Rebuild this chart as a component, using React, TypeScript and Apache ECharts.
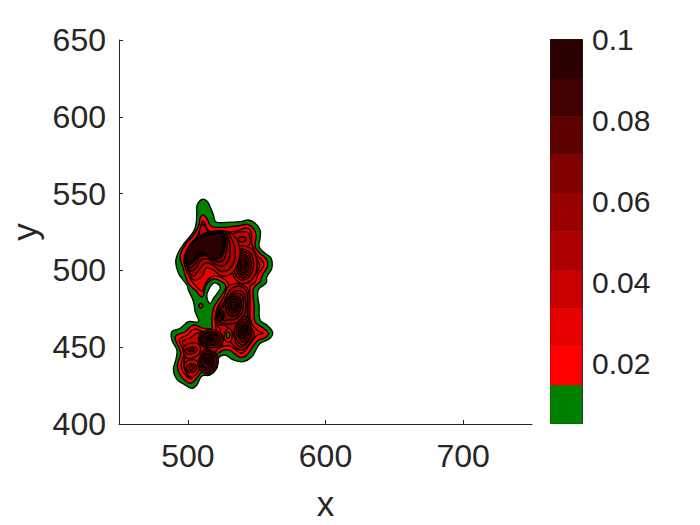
import React, { useEffect, useRef } from "react";
import * as echarts from "echarts";

const xTicks = [500, 600, 700];
const colorbarTicks = [0.02, 0.04, 0.06, 0.08, 0.1];
const bandEdges = [0.0052, 0.0147, 0.0242, 0.0336, 0.0431, 0.0526, 0.0621, 0.0716, 0.081, 0.0905, 0.1];
const bandColors = ["#008000", "#ff0000", "#e60000", "#c80000", "#ab0000", "#990000", "#800000", "#5f0000", "#400000", "#2a0000"];

type P = number[];
const outerRing: P[] = [[510.2,546.3],[513.8,545.2],[516.2,541.5],[518.6,536.1],[520.3,531.7],[528.3,531.3],[538,531.7],[544,532.8],[548.9,530.7],[552.5,526.3],[552.5,520.9],[551.8,515.4],[556.2,511.1],[560.5,507.9],[561,501.4],[557.4,495.9],[556.9,491.8],[551.1,487.2],[551.8,476.4],[552.5,467.7],[557.4,464.4],[561.5,460.1],[559.8,455.8],[552.5,452.5],[550.1,449.3],[546.5,443.8],[540.4,440.6],[533.1,441.7],[527.1,444.9],[522.2,442.8],[521.1,436.3],[516.2,431.9],[510.2,431.2],[506.5,425.4],[502.9,423.2],[498,425.4],[492,429.1],[489.5,435.2],[491.5,442.8],[492,448.2],[488.4,454.7],[488.4,460.1],[494.4,462.3],[500.4,466.6],[507.7,466.6],[505.3,473.1],[504.1,479.6],[500.4,487.2],[499.3,490.5],[493.2,498.1],[491.3,506.8],[495.6,515.4],[504.1,525.2],[506,530.7],[506.5,537.2],[506.8,542.6]];
const hole: P[] = [[515,487.2],[518.6,491.6],[522.2,490.9],[523.5,488.3],[518.6,481.8],[516.2,478.6],[513.8,482.9]];
const redRing: P[] = [[510.9,536.1],[513.8,533.9],[516.2,529.5],[519.8,528],[535.6,528.9],[543.3,530],[547.7,527.4],[549.6,523],[548.9,515.4],[552.5,511.1],[557.4,506.8],[557.8,502.4],[554.2,497],[552.5,492.6],[547.7,488.3],[548.2,476.4],[548.9,466.6],[554.9,462.3],[558.6,459],[556.2,456.2],[551.3,454.7],[547.2,450.3],[542.9,444.9],[538,443.4],[529.5,448.2],[522.2,446],[518.6,438.4],[511.3,435.2],[506.5,429.8],[501.7,426.5],[494.4,431.9],[492.4,438.4],[494.9,446],[490.8,456.8],[498,460.1],[504.1,464.4],[511.3,462.3],[517.4,462.3],[517.4,465.6],[518.6,475.3],[524.7,484],[527.6,489.4],[524.7,492.6],[518.6,494.4],[513.3,490.5],[510.4,482.7],[505.3,487.2],[500.2,491.8],[496.6,501.6],[494.4,508.9],[498,516.5],[504.1,523],[507,527.4],[508.4,530.7],[508.9,533.9]];
const neckSpot: P[] = [[507.9,477],[509.4,478.5],[510.9,477],[509.4,475.5]];
const level2Ring: P[] = [[511.1,532.2],[513.3,528.9],[515.5,525.6],[523.5,525],[535.1,525.6],[543.1,527.6],[546,525],[546.7,516.5],[550.4,510],[554.7,505.5],[554.7,502.2],[551.1,497.7],[548.9,492.4],[545.3,489.8],[545.3,480.7],[546,466.4],[551.1,460.5],[554.7,459.2],[549.6,457.3],[545.3,452.1],[540.9,446.9],[538,446.2],[530,450.8],[522,448.8],[517.7,441],[510.4,437.8],[505.3,431.9],[501.7,429.3],[496.6,433.9],[495.1,438.4],[497.3,446.9],[493.7,454.7],[499.5,457.9],[504.6,461.8],[511.8,459.9],[519.8,459.9],[519.8,469],[521.3,475.5],[527.1,484],[530,489.2],[526.4,494.4],[518.4,496.3],[513.5,492.5],[510.4,486.5],[505.3,490.5],[501.7,494.4],[498,502.9],[497.3,508.7],[500.9,515.9],[506.8,522.4],[508.9,527.6]];
const spikeRing: P[] = [[511.1,530.2],[513.3,526.9],[515.5,523.7],[508.9,522.4],[508.9,526.9]];
const upperRightRing: P[] = [[532.2,523.7],[542.4,525],[545.3,521.1],[543.8,515.9],[535.1,515.2],[529.3,519.8]];
const upperRightCore: P[] = [[536.6,521.1],[540.2,521.7],[542.4,520.4],[540.2,518.5],[537.3,519.1]];
const rightFan: P[] = [[546.7,512],[551.8,504.8],[551.8,501.6],[548.2,496.3],[544.5,491.8],[542.4,491.8],[543.1,505.5]];

const plateauRings: [number, P[]][] = [
  [3, [[497.3,506.8],[501.7,515.2],[507.5,521.7],[515.5,525],[527.8,525.6],[534.4,521.7],[538,513.3],[536.6,505.5],[532.2,498.3],[524.9,496.3],[518.4,500.3],[513.3,501.6],[510.4,496.3],[504.6,493.7],[499.5,499]]],
  [4, [[498,507.4],[502.4,515.2],[508.2,521.7],[516.2,524.3],[527.8,525],[532.2,519.8],[534.4,513.3],[533.6,505.5],[529.3,500.3],[523.5,499.6],[518.4,503.5],[512.6,504.8],[508.2,500.3],[503.9,496.3],[500.2,500.3]]],
  [5, [[498.8,508.1],[503.1,515.2],[508.9,521.1],[516.2,523.7],[527.1,524.3],[530,519.1],[530.7,512],[529.3,506.1],[524.9,502.9],[519.8,504.2],[514.8,507.4],[509.7,506.8],[506,501.6],[502.4,499.6],[499.5,502.2]]],
  [6, [[498.8,508.7],[503.1,514.6],[508.9,520.4],[516.2,523],[526.4,523.7],[528.6,518.5],[527.8,512],[526.4,507.4],[522.7,505.5],[518.4,506.8],[514,509.4],[508.9,508.7],[505.3,504.2],[501.7,501.6],[499.5,504.2]]],
  [7, [[498.8,509.4],[503.1,515.2],[508.2,520.4],[516.2,523.4],[525.7,523.7],[527.5,518.5],[525.7,511.3],[523.5,508.1],[519.1,507.4],[514,510],[508.2,509.4],[503.9,505.5],[500.9,503.5],[498.8,505.5]]],
  [8, [[499.1,510],[503.1,515.9],[507.9,520.8],[516.2,523.2],[525.3,523.7],[526.8,518.5],[524.6,510.7],[517.7,507.1],[513.3,510.7],[507.9,510.3],[503.9,506.1],[500.6,504.8]]],
  [9, [[499.3,505.7],[499.3,513.3],[507.7,520.9],[516.2,523],[524.7,523.5],[525.7,518.7],[523.5,510],[517.4,506.8],[512.6,511.1],[507.7,511.1],[503.8,506.8],[500.4,505.7]]],
];
const rightHillRings: [number, P[]][] = [
  [3, [[535.1,515.2],[545.3,514.6],[549.6,508.1],[549.6,499],[543.8,492.4],[536.6,492.4],[532.2,499],[532.2,508.1]]],
  [4, [[535.8,513.3],[543.8,512.6],[547.5,506.8],[546.7,499],[542.4,494.4],[537.3,494.4],[533.6,499.6],[533.6,508.1]]],
  [5, [[536.6,512],[543.1,511.3],[546,506.1],[545.3,499.6],[541.6,495.7],[538,495.7],[535.1,500.3],[535.1,507.4]]],
  [6, [[537.3,510.7],[542.4,510],[544.5,505.5],[543.8,500.3],[540.9,497],[538.7,497],[536.6,500.9],[536.6,506.8]]],
  [7, [[538,509.4],[541.6,508.7],[543.1,504.8],[542.4,500.9],[540.2,498.3],[538.7,499],[538,501.6],[537.3,506.1]]],
  [8, [[538.7,507.4],[540.9,507.4],[541.6,504.2],[540.9,501.6],[539.5,500.9],[538.7,503.5]]],
];
const mainRings: [number, P[]][] = [
  [3, [[529.3,489.8],[538,491.1],[543.8,487.2],[544.5,474.2],[545.3,464.4],[548.2,458.6],[545.3,453.4],[540.2,448.2],[535.1,449.5],[530.7,453.4],[524.9,456],[523.5,461.2],[520.6,466.4],[522,475.5],[526.4,483.3]]],
  [4, [[523.5,472.9],[527.8,482.7],[532.2,488.5],[539.5,489.2],[543.1,484.6],[543.1,472.9],[544.5,465.1],[546.7,459.2],[543.8,454],[539.5,450.1],[535.1,452.1],[533.6,457.9],[527.8,463.8],[522,465.1]]],
  [5, [[522,472.9],[527.8,480.7],[532.9,485.9],[538.7,486.6],[541.6,482.7],[541.6,472.9],[536.6,466.4],[529.3,465.1],[523.5,466.4]]],
  [6, [[522.7,472.3],[527.1,478.1],[532.2,484],[538,484.6],[540.2,481.4],[539.5,472.9],[535.1,468.4],[529.3,467.7],[524.9,467.7]]],
  [7, [[527.8,478.8],[531.5,482.7],[536.6,482.7],[538.7,479.4],[538,473.6],[534.4,470.3],[530,471],[527.8,474.2]]],
  [8, [[529.3,478.1],[532.2,481.4],[535.8,481.4],[537.3,478.8],[536.6,474.2],[533.6,472.3],[530.7,472.9],[529.3,475.5]]],
  [9, [[531.5,478.8],[534.4,479.4],[535.8,476.8],[533.6,474.2],[531.5,475.5]]],
  [7, [[522,470.3],[524.2,473.6],[526.4,472.3],[525.7,468.4],[522.7,467.7]]],
  [8, [[522.7,470.3],[524.2,472.3],[525.7,471],[524.9,469]]],
];
const southHillRings: [number, P[]][] = [
  [5, [[536.6,466.4],[541.6,470.3],[544.5,467.7],[546,459.2],[543.8,454.7],[540.2,451.4],[536.6,453.4],[533.6,459.9]]],
  [6, [[537.3,465.1],[541.6,468.4],[543.8,465.8],[544.5,459.2],[542.4,455.3],[540.2,453.4],[538,454.7],[535.1,459.9]]],
  [7, [[538,463.8],[541.6,466.4],[543.1,463.8],[543.1,459.2],[541.6,456.6],[539.5,455.3],[538,456.6],[536.6,460.5]]],
  [8, [[538.7,462.5],[541.6,464.4],[542.4,461.2],[540.9,457.9],[539.5,457.3],[538,459.9]]],
  [9, [[539.5,461.2],[540.9,462.5],[541.6,460.5],[540.2,459.2]]],
];
const lowerRings: [number, P[]][] = [
  [3, [[495.9,453.4],[501.7,456],[506.8,459.2],[513.3,458.6],[520.6,457.9],[524.9,451.4],[520.6,448.2],[519.1,440.4],[511.1,439.1],[506,433.9],[501.7,431.2],[498,435.2],[497.3,441.7],[499.5,448.2]]],
  [3, [[497.3,438.4],[501.7,441.7],[507.5,440.4],[507.5,433.9],[501.7,430.6],[498.8,433.9]]],
  [3, [[496.6,449.5],[503.1,452.7],[508.9,450.8],[507.5,445],[499.5,442.8]]],
  [4, [[508.2,457.3],[514.8,461.2],[521.3,460.5],[525.7,456],[523.5,451.4],[516.2,449.5],[509.7,451.4]]],
  [5, [[508.9,456.6],[514.8,459.9],[520.6,459.2],[524.2,456],[522,452.1],[516.2,450.8],[510.4,452.1]]],
  [6, [[509.7,456],[514.8,459.2],[519.8,458.6],[522.7,456],[520.6,452.7],[516.2,451.4],[511.1,452.7]]],
  [7, [[511.1,456],[514.8,457.9],[519.1,457.9],[521.3,456],[519.1,453.4],[515.5,452.7],[511.8,453.4]]],
  [8, [[512.6,456],[515.5,457.3],[518.4,456.6],[519.1,455.3],[516.9,454],[514,454]]],
  [9, [[514,456],[516.9,456],[517.7,455.3],[515.5,454.7]]],
  [4, [[508.2,442.3],[511.8,448.2],[517.7,447.5],[522,443],[520.6,436.5],[515.5,432.6],[510.4,433.9],[507.5,437.8]]],
  [5, [[508.9,442.3],[512.6,446.9],[516.9,446.9],[520.6,443],[519.8,437.1],[515.5,433.9],[511.1,435.2],[508.2,438.4]]],
  [6, [[509.7,442.3],[512.6,445.6],[516.9,445.6],[519.1,442.3],[518.4,437.8],[515.5,435.2],[511.8,436.5],[509.7,438.4]]],
  [7, [[510.4,442.3],[513.3,444.9],[516.2,444.9],[518.4,441.7],[517.7,438.4],[515.5,436.5],[512.6,437.1],[510.4,439.1]]],
  [8, [[511.8,441.7],[514,443.6],[516.2,443],[516.9,440.4],[515.5,438.4],[513.3,439.1]]],
  [9, [[513.3,441.7],[514.8,442.3],[515.5,440.4],[514,439.7]]],
  [4, [[498,448.2],[503.1,450.1],[506.8,448.8],[504.6,446.2],[499.5,445.6]]],
  [5, [[500.2,448.2],[503.1,448.8],[504.6,448.2],[502.4,446.9]]],
  [4, [[498.8,436.5],[502.4,439.1],[506,437.8],[505.3,434.5],[500.9,433.9]]],
  [5, [[500.9,436.5],[503.1,437.8],[504.6,436.5],[502.4,435.2]]],
];
const pitRed: P[] = [[526.4,457.9],[528.6,461.8],[531.5,461.2],[532.2,456.6],[530,453.4],[527.1,454.7]];
const pitGreen: P[] = [[527.8,457.9],[529.3,459.9],[530.7,458.6],[530,456],[528.6,456]];

const contours: [number, P[]][] = [
  [0, outerRing],
  [1, redRing],
  [-1, hole],
  [1, neckSpot],
  [2, level2Ring],
  [3, spikeRing],
  [3, upperRightRing],
  [4, upperRightCore],
  [3, rightFan],
  ...rightHillRings,
  ...plateauRings,
  ...mainRings,
  ...southHillRings,
  ...lowerRings,
  [1, pitRed],
  [0, pitGreen],
];

const TEXT = "#262626";
const FONT = "'Liberation Sans', Arial, sans-serif";

export default function App() {
  const ref = useRef<HTMLDivElement>(null);
  useEffect(() => {
    const chart = echarts.init(ref.current!, null, { renderer: "svg" });
    chart.setOption({
      animation: false,
      backgroundColor: "#ffffff",
      textStyle: { fontFamily: FONT },
      grid: [
        { left: 119, top: 40, width: 413, height: 384, show: false, outerBoundsMode: "none" },
        { left: 550.5, top: 39.5, width: 31.5, height: 384, show: false, outerBoundsMode: "none" },
      ],
      xAxis: [
        {
          gridIndex: 0, type: "value", min: 450, max: 750, position: "bottom",
          name: "x", nameLocation: "middle", nameGap: 62,
          nameTextStyle: { fontSize: 35, color: TEXT, fontFamily: FONT },
          splitLine: { show: false },
          axisLine: { show: true, onZero: false, lineStyle: { color: TEXT, width: 1 } },
          axisTick: { show: true, inside: true, length: 4, customValues: xTicks, lineStyle: { color: TEXT } },
          axisLabel: { show: true, customValues: xTicks, fontSize: 32, color: TEXT, margin: 16, fontFamily: FONT },
        },
        {
          gridIndex: 1, type: "value", min: 0, max: 1, position: "bottom",
          axisLine: { show: true, onZero: false, lineStyle: { color: TEXT } },
          axisTick: { show: false }, axisLabel: { show: false }, splitLine: { show: false },
        },
        {
          gridIndex: 1, type: "value", min: 0, max: 1, position: "top",
          axisLine: { show: true, onZero: false, lineStyle: { color: TEXT } },
          axisTick: { show: false }, axisLabel: { show: false }, splitLine: { show: false },
        },
      ],
      yAxis: [
        {
          gridIndex: 0, type: "value", min: 400, max: 650, interval: 50,
          name: "y", nameLocation: "middle", nameGap: 74,
          nameTextStyle: { fontSize: 35, color: TEXT, fontFamily: FONT },
          splitLine: { show: false },
          axisLine: { show: true, onZero: false, lineStyle: { color: TEXT, width: 1 } },
          axisTick: { show: true, inside: true, length: 4, lineStyle: { color: TEXT } },
          axisLabel: { show: true, fontSize: 32, color: TEXT, margin: 13, fontFamily: FONT },
        },
        {
          gridIndex: 1, type: "value", min: bandEdges[0], max: 0.1, position: "right",
          splitLine: { show: false },
          axisLine: { show: true, onZero: false, lineStyle: { color: TEXT } },
          axisTick: { show: true, inside: true, length: 3, customValues: colorbarTicks, lineStyle: { color: TEXT } },
          axisLabel: { show: true, customValues: colorbarTicks, fontSize: 30, color: TEXT, margin: 10, fontFamily: FONT,
            formatter: (v: number) => String(Math.round(v * 100) / 100) },
        },
        {
          gridIndex: 1, type: "value", min: bandEdges[0], max: 0.1, position: "left",
          splitLine: { show: false },
          axisLine: { show: true, onZero: false, lineStyle: { color: TEXT } },
          axisTick: { show: false }, axisLabel: { show: false },
        },
      ],
      series: [
        {
          type: "custom",
          xAxisIndex: 0, yAxisIndex: 0,
          coordinateSystem: "cartesian2d",
          clip: true,
          silent: true,
          data: contours.map((c, i) => [c[1][0][0], c[1][0][1], i]),
          encode: { x: 0, y: 1 },
          renderItem: (params: any, api: any) => {
            const [level, ring] = contours[params.dataIndex];
            const points = ring.map((p) => api.coord(p));
            return {
              type: "polygon",
              shape: { points, smooth: 0.4 },
              style: { fill: level < 0 ? "#ffffff" : bandColors[level], stroke: "#000000", lineWidth: 1.3 },
            };
          },
        },
        {
          type: "custom",
          xAxisIndex: 1, yAxisIndex: 1,
          coordinateSystem: "cartesian2d",
          silent: true,
          z: 1,
          data: bandColors.map((_, i) => [0, bandEdges[i], i]),
          encode: { x: 0, y: 1 },
          renderItem: (params: any, api: any) => {
            const i = params.dataIndex;
            const a = api.coord([0, bandEdges[i]]);
            const b = api.coord([1, bandEdges[i + 1]]);
            return {
              type: "rect",
              shape: { x: a[0], y: b[1], width: b[0] - a[0], height: a[1] - b[1] },
              style: { fill: bandColors[i], stroke: bandColors[i], lineWidth: 0.5 },
            };
          },
        },
      ],
    });
    return () => chart.dispose();
  }, []);
  return <div ref={ref} style={{ position: "absolute", left: 0, top: 0, width: 700, height: 525 }} />;
}
